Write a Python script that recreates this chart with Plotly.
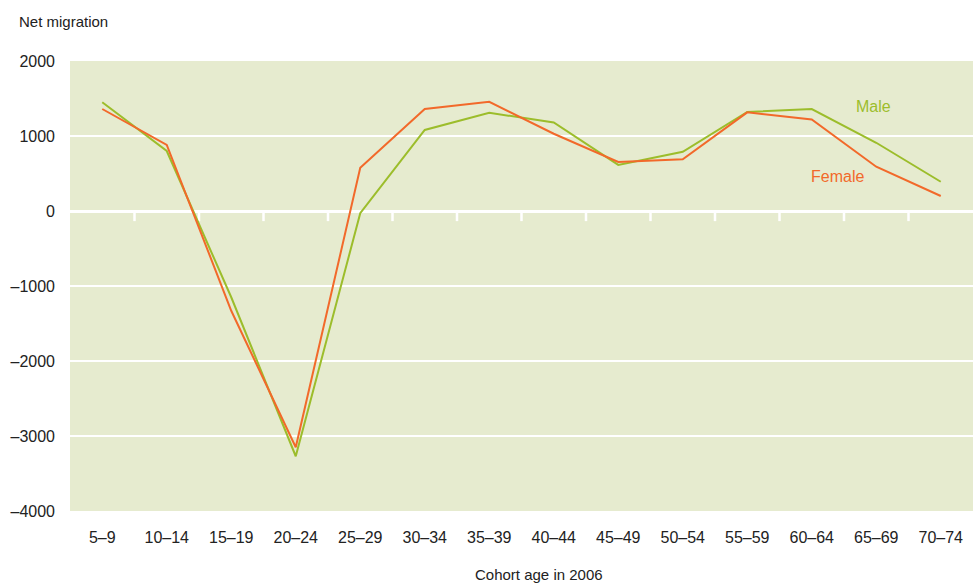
import plotly.graph_objects as go

categories = ["5–9", "10–14", "15–19", "20–24", "25–29", "30–34", "35–39",
              "40–44", "45–49", "50–54", "55–59", "60–64", "65–69", "70–74"]
male = [1450, 800, -1150, -3270, -30, 1080, 1310, 1180, 615, 790, 1320, 1360, 910, 390]
female = [1360, 880, -1330, -3150, 575, 1360, 1455, 1030, 655, 690, 1315, 1220, 590, 200]
y_tick_vals = [2000, 1000, 0, -1000, -2000, -3000, -4000]
y_tick_text = ["2000", "1000", "0", "–1000", "–2000", "–3000", "–4000"]

GREEN = "#9CBD2B"
ORANGE = "#F2692A"
BG = "#E6EBCF"
FONT = "Liberation Sans Narrow, Arial Narrow, Liberation Sans, sans-serif"

x_idx = list(range(len(categories)))

fig = go.Figure()
fig.add_trace(go.Scatter(x=x_idx, y=male, mode="lines", name="Male",
                         line=dict(color=GREEN, width=2)))
fig.add_trace(go.Scatter(x=x_idx, y=female, mode="lines", name="Female",
                         line=dict(color=ORANGE, width=2)))

# white tick marks on the zero line at category boundaries
for i in range(len(categories) - 1):
    fig.add_shape(type="line", xref="x", yref="y", x0=i + 0.5, x1=i + 0.5,
                  y0=0, y1=-135, line=dict(color="white", width=2.5), layer="below")

fig.add_annotation(x=11.95, y=1400, xref="x", yref="y", text="Male", showarrow=False,
                   font=dict(family=FONT, size=16, color=GREEN), xanchor="center")
fig.add_annotation(x=11.4, y=460, xref="x", yref="y", text="Female", showarrow=False,
                   font=dict(family=FONT, size=16, color=ORANGE), xanchor="center")
fig.add_annotation(x=0, y=1, xref="paper", yref="paper", text="Net migration",
                   showarrow=False, xanchor="left", yanchor="bottom",
                   xshift=-53, yshift=29,
                   font=dict(family=FONT, size=15, color="#222222"))
fig.add_annotation(x=0.5, y=0, xref="paper", yref="paper", text="Cohort age in 2006",
                   showarrow=False, xanchor="center", yanchor="top",
                   xshift=17, yshift=-53,
                   font=dict(family=FONT, size=15, color="#222222"))

fig.update_layout(
    width=973, height=583,
    margin=dict(l=70, r=0, t=61, b=72),
    paper_bgcolor="white", plot_bgcolor=BG,
    showlegend=False,
    font=dict(family=FONT, size=16, color="#222222"),
    xaxis=dict(range=[-0.5, len(categories) - 0.5], tickmode="array",
               tickvals=x_idx, ticktext=categories, showgrid=False,
               zeroline=False, showline=False, ticks="", ticklabelstandoff=15,
               fixedrange=True),
    yaxis=dict(range=[-4000, 2000], tickmode="array", tickvals=y_tick_vals,
               ticktext=y_tick_text, showgrid=True, gridcolor="white",
               gridwidth=2, zeroline=True, zerolinecolor="white", zerolinewidth=3,
               showline=False, ticks="", ticklabelstandoff=14, fixedrange=True),
)

fig.write_html(
    "out.html",
    config={"displayModeBar": False},
    post_script="document.body.style.margin='0';document.body.style.overflow='hidden';",
)
